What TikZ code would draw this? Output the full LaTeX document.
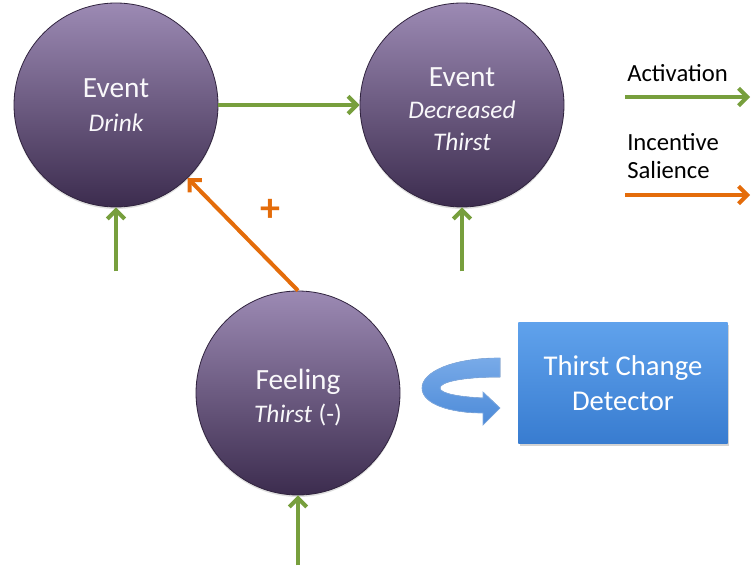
\documentclass[tikz,border=0pt]{standalone}
\usepackage{fontspec}
\setmainfont{Carlito}
\usetikzlibrary{calc}
\usetikzlibrary{arrows.meta}
\usetikzlibrary{shadows}
\definecolor{actgreen}{RGB}{119,159,61}
\definecolor{salorange}{RGB}{228,108,10}
\definecolor{circtop}{RGB}{156,138,180}
\definecolor{circbot}{RGB}{60,44,78}
\definecolor{boxtop}{RGB}{96,162,236}
\definecolor{boxbot}{RGB}{56,124,208}
\definecolor{looptop}{RGB}{120,170,232}
\definecolor{loopbot}{RGB}{76,138,216}

\begin{document}
\begin{tikzpicture}[x=0.75pt,y=-0.75pt,
  circ/.style={circle, minimum size=153pt, inner sep=0pt, draw=circbot!80!black, line width=.6pt,
    top color=circtop, bottom color=circbot, text=white!94!circtop, align=center,
    font=\fontsize{22}{27}\selectfont, drop shadow={opacity=.25, shadow xshift=0pt, shadow yshift=-1.5pt}},
  dbox/.style={rectangle, minimum width=157pt, minimum height=91pt, top color=boxtop, bottom color=boxbot,
    text=white, align=center, font=\fontsize{21.5}{26}\selectfont,
    drop shadow={opacity=.35, shadow xshift=1pt, shadow yshift=-2pt}},
  act/.style={actgreen, line width=3pt, -{Straight Barb[length=6.5pt,width=13pt]}},
  sal/.style={salorange, line width=3pt, -{Straight Barb[length=6.5pt,width=13pt]}},
  lbl/.style={anchor=west, align=left, inner sep=0pt, font=\fontsize{18.5}{21}\selectfont}]
\useasboundingbox (0,0) rectangle (751,567);
% circles
\node[circ] (drink) at (116,105) {Event\\[-2pt]{\fontsize{19}{24}\selectfont\itshape Drink}};
\node[circ] (less) at (462,105) {\\[-6pt]Event\\[-3pt]{\fontsize{19}{24}\selectfont\itshape Decreased}\\[-3pt]{\fontsize{19}{24}\selectfont\itshape Thirst}};
\node[circ] (feel) at (298,393) {\\[-5pt]Feeling\\[-2pt]{\fontsize{19}{24}\selectfont\itshape Thirst} {\fontsize{19}{24}\selectfont(-)}};
\node[dbox] (detector) at (623,383) {Thirst Change\\Detector};
% connectors
\draw[act] (drink) -- (less);
\draw[sal] (feel.north) -- node[midway, xshift=21pt, yshift=18pt, text=salorange, font=\fontsize{30}{30}\selectfont\bfseries] (plus) {+} (drink);
\foreach \n/\d in {drink/64,less/64,feel/70} {
\coordinate (\n-in) at ($(\n.south)+(0,\d)$);
\draw[act] (\n-in) -- (\n.south);
}
% loop arrow
\filldraw[draw=loopbot!70!white, line width=.5pt, top color=looptop, bottom color=loopbot]
  (500,358) .. controls (452,358) and (422,372) .. (422,388) .. controls (422,404) and (450,413) .. (483,413)
  -- (483,425) -- (500,408) -- (483,392) -- (483,398) .. controls (462,397) and (440,394) .. (440,388)
  .. controls (440,382) and (462,377) .. (500,377) -- cycle;
% legend
\node[lbl] (actlbl) at (627,73) {Activation};
\coordinate (act-a) at (625,97);
\coordinate (act-b) at (750,97);
\draw[act] (act-a) -- (act-b);
\node[lbl] (sallbl) at (627,156) {Incentive\\Salience};
\coordinate (sal-a) at (625,195);
\coordinate (sal-b) at (750,195);
\draw[sal] (sal-a) -- (sal-b);
\end{tikzpicture}
\end{document}
